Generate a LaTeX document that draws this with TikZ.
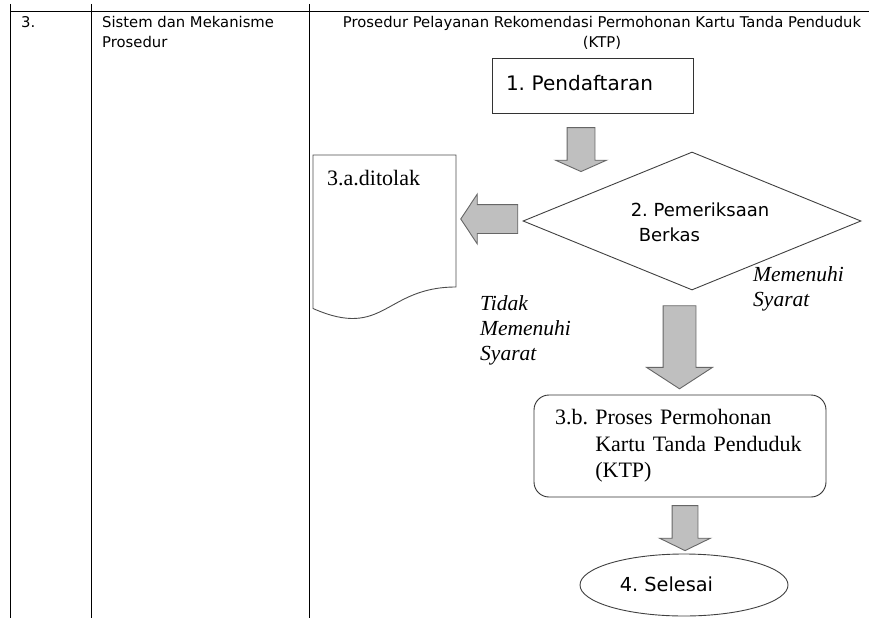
\documentclass[tikz,border=0pt]{standalone}
\usepackage{fontspec}
\setmainfont{Liberation Serif}
\newfontfamily\verdanafont{DejaVu Sans}
\usetikzlibrary{shapes.geometric, shapes.arrows, calc}

\begin{document}
\frenchspacing
\begin{tikzpicture}[
    x=1pt, y=-1pt,
    every node/.style={align=center},
    tabelgaris/.style={draw=black, line width=0.9pt},
]

% --- Style definitions ---
\tikzset{
    sel/.style = {inner sep=0pt, font=\verdanafont\fontsize{14.8}{20}\selectfont},
    kotak/.style = {draw=black!80, line width=0.9pt, minimum width=201pt, minimum height=55pt,
        text width=173pt, inner xsep=14pt, inner ysep=0pt, text depth=6pt, align=left,
        font=\verdanafont\fontsize{20}{24}\selectfont},
    ketupat/.style = {diamond, draw=black!75, line width=0.9pt, minimum width=338pt,
        minimum height=138pt, inner sep=0pt},
    kotakbulat/.style = {draw=black!80, line width=0.9pt, rounded corners=15pt,
        minimum width=292pt, minimum height=102pt, text width=250pt, inner xsep=21pt,
        align=left, font=\fontsize{22}{26.5}\selectfont},
    elips/.style = {ellipse, draw=black!75, line width=0.9pt, minimum width=208pt,
        minimum height=62pt, inner sep=0pt},
    dokumen/.style = {draw=black!70, line width=0.9pt},
    teks/.style = {inner sep=0pt, font=\verdanafont\fontsize{18}{25}\selectfont},
    teksserif/.style = {inner sep=0pt, font=\fontsize{22}{26}\selectfont},
    miring/.style = {inner sep=0pt, align=left, font=\itshape\fontsize{21.5}{25}\selectfont},
    blokpanah/.style = {single arrow, draw=black!60, fill=gray!50, line width=0.9pt,
        inner sep=0pt, text depth=0pt, single arrow head indent=0pt},
}

\useasboundingbox (0,0) rectangle (869,618);

% --- Table frame ---
\draw [tabelgaris] (10,11) -- (869,11);
\draw [tabelgaris] (10,4) -- (10,618);
\draw [tabelgaris] (91,4) -- (91,618);
\draw [tabelgaris] (309,4) -- (309,618);

% --- Table texts ---
\node (nomor) [sel, anchor=west] at (21,22) {3.};
\node (aspek) [sel, anchor=west, align=left] at (102,32) {Sistem dan Mekanisme\\Prosedur};
\node (judul) [sel] at (602,33) {Prosedur Pelayanan Rekomendasi Permohonan Kartu Tanda Penduduk\\(KTP)};

% --- Flowchart steps ---
\node (pendaftaran) [kotak] at (592.5,85.5) {1. Pendaftaran};
\node (pemeriksaan) [ketupat] at (692,221) {};
\node (pemeriksaanteks) [teks, align=left] at (700,222) {2. Pemeriksaan\\\hspace*{8pt}Berkas};
\node (proses) [kotakbulat] at (680,446)
    {\begin{tabular}{@{}l@{\ }l@{}}3.b. & Proses Permohonan\\ & Kartu Tanda Penduduk\\ & (KTP)\end{tabular}};
\node (selesai) [elips] at (684,585) {};
\node (selesaiteks) [teks, font=\verdanafont\fontsize{19.3}{24}\selectfont] at (666.5,584) {4. Selesai};

% --- Rejected document ---
\draw [dokumen] (456,287) -- (456,155) -- (313,155) -- (313,308.5)
    .. controls (384.5,340) and (384.5,287) .. (456,287) -- cycle;
\node (ditolak) [teksserif, anchor=west] at (327,178) {3.a.ditolak};

% --- Decision labels ---
\node (tidakmemenuhi) [miring, anchor=west] at (480,330) {Tidak\\Memenuhi\\Syarat};
\node (memenuhi) [miring, anchor=west] at (753,289) {Memenuhi\\Syarat};

% --- Block arrows ---
\node (panahsatu) [blokpanah, rotate=-90, text height=27pt, minimum height=44pt,
    single arrow head extend=11.5pt, single arrow tip angle=132]
    at ($(pendaftaran.south)+(-11.5,33)$) {};
\node (panahkiri) [blokpanah, rotate=180, text height=28pt, minimum height=57pt,
    single arrow head extend=10.5pt, single arrow tip angle=113]
    at ($(pemeriksaan.west)+(-28.5,-2)$) {};
\node (panahdua) [blokpanah, rotate=-90, text height=32pt, minimum height=83pt,
    single arrow head extend=16.5pt, single arrow tip angle=114]
    at ($(pemeriksaan.south)+(-12.5,51.5)$) {};
\node (panahtiga) [blokpanah, rotate=-90, text height=25pt, minimum height=45pt,
    single arrow head extend=12.5pt, single arrow tip angle=128]
    at ($(proses.south)+(5,27.5)$) {};

\end{tikzpicture}
\end{document}
